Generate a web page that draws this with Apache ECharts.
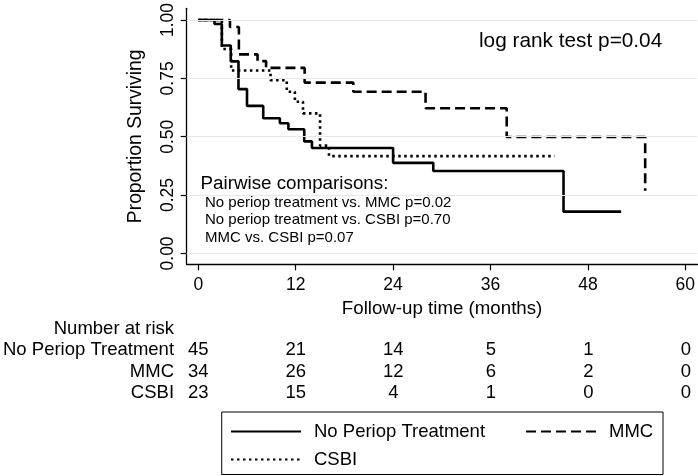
<!DOCTYPE html>
<html>
<head>
<meta charset="utf-8">
<script src="https://cdn.jsdelivr.net/npm/echarts@6/dist/echarts.min.js"></script>
<style>
html,body{margin:0;padding:0;background:#fff;}
#chart{width:698px;height:476px;}
</style>
</head>
<body>
<div id="chart"></div>
<script>
// ---- Data ----
const groupNames = ['No Periop Treatment', 'MMC', 'CSBI'];

const noPeriopTime = [0, 2.0, 2.9, 4.0, 4.95, 6.0, 8.0, 10.05, 11.1, 13.05, 14.0, 24.0, 28.95, 45.0, 52.1];
const noPeriopSurv = [1.0, 0.983, 0.891, 0.823, 0.704, 0.632, 0.579, 0.558, 0.532, 0.480, 0.452, 0.388, 0.353, 0.179, 0.179];

const mmcTime = [0, 3.9, 5.0, 7.3, 8.35, 13.1, 19.1, 28.0, 38.0, 55.06];
const mmcSurv = [1.0, 0.970, 0.853, 0.824, 0.795, 0.732, 0.693, 0.622, 0.499, 0.268];

const csbiTime = [0, 2.9, 4.05, 8.9, 10.9, 11.9, 12.9, 15.0, 16.1, 43.9];
const csbiSurv = [1.0, 0.876, 0.784, 0.742, 0.693, 0.650, 0.600, 0.462, 0.417, 0.417];

const xTicks = [0, 12, 24, 36, 48, 60];
const yTicks = [0, 0.25, 0.5, 0.75, 1.0];

const riskTimes = [0, 12, 24, 36, 48, 60];
const riskNoPeriop = [45, 21, 14, 5, 1, 0];
const riskMMC = [34, 26, 12, 6, 2, 0];
const riskCSBI = [23, 15, 4, 1, 0, 0];
const riskRows = ['Number at risk', 'No Periop Treatment', 'MMC', 'CSBI'];

const logRankText = 'log rank test p=0.04';
const pairwiseTitle = 'Pairwise comparisons:';
const pairwiseLines = [
  'No periop treatment vs. MMC p=0.02',
  'No periop treatment vs. CSBI p=0.70',
  'MMC vs. CSBI p=0.07'
];

// ---- Build ----
const FONT = '"Liberation Sans", Arial, Helvetica, sans-serif';
const zip = (a, b) => a.map((v, i) => [v, b[i]]);
const X_MIN = -1.43, X_MAX = 61.5, Y_MIN = -0.0466, Y_MAX = 1.05;

const chart = echarts.init(document.getElementById('chart'), null, {renderer: 'canvas'});

function riskSeries(name, vals) {
  return {
    type: 'scatter', xAxisIndex: 1, yAxisIndex: 1, silent: true,
    symbolSize: 0.5, itemStyle: {color: '#fff', opacity: 1},
    data: riskTimes.map((t, i) => [t, name, vals[i]]),
    label: {
      show: true, position: 'inside', formatter: p => String(p.value[2]),
      color: '#000', opacity: 1, textBorderWidth: 0,
      fontFamily: FONT, fontSize: 18.5
    },
    emphasis: {disabled: true},
    tooltip: {show: false}
  };
}

function kmSeries(name, times, surv, dash) {
  return {
    name: name, type: 'line', step: 'end', showSymbol: false, symbol: 'none',
    xAxisIndex: 0, yAxisIndex: 0, z: 3,
    data: zip(times, surv),
    lineStyle: {color: '#000', width: 2.6, type: dash, cap: 'butt'},
    itemStyle: {color: '#000'},
    animation: false
  };
}

const legendCommon = {
  itemWidth: 70, itemHeight: 14, padding: 0,
  textStyle: {fontFamily: FONT, fontSize: 18.5, color: '#000', padding: [0, 0, 0, 8]},
  itemStyle: {color: 'rgba(0,0,0,0)', borderColor: 'rgba(0,0,0,0)', borderWidth: 0},
  selectedMode: false
};

const option = {
  backgroundColor: '#fff',
  animation: false,
  grid: [
    {left: 186.7, right: 0, top: 5.7, bottom: 476 - 264.3, containLabel: false},
    {left: 186.7, right: 0, top: 318.3, height: 85.3, containLabel: false}
  ],
  xAxis: [
    {
      type: 'value', gridIndex: 0, min: X_MIN, max: X_MAX,
      name: 'Follow-up time (months)', nameLocation: 'middle', nameGap: 32,
      nameTextStyle: {fontFamily: FONT, fontSize: 18.7, color: '#000'},
      axisLine: {show: true, onZero: false, lineStyle: {color: '#000', width: 1.3}},
      axisTick: {show: true, length: 6, customValues: xTicks, lineStyle: {color: '#000', width: 1.2}},
      axisLabel: {show: true, customValues: xTicks, margin: 12, fontFamily: FONT, fontSize: 17.5, color: '#000'},
      splitLine: {show: false}
    },
    {
      type: 'value', gridIndex: 1, min: X_MIN, max: X_MAX, show: false
    }
  ],
  yAxis: [
    {
      type: 'value', gridIndex: 0, min: Y_MIN, max: Y_MAX,
      name: 'Proportion Surviving', nameLocation: 'middle', nameGap: 42,
      nameTextStyle: {fontFamily: FONT, fontSize: 19.3, color: '#000'},
      axisLine: {show: true, onZero: false, lineStyle: {color: '#000', width: 1.3}},
      axisTick: {show: true, length: 6, customValues: yTicks, lineStyle: {color: '#000', width: 1.2}},
      axisLabel: {
        show: true, customValues: yTicks, rotate: 90, margin: 10,
        formatter: v => v.toFixed(2),
        fontFamily: FONT, fontSize: 17.5, color: '#000'
      },
      splitLine: {show: false}
    },
    {
      type: 'category', gridIndex: 1, data: riskRows, inverse: true,
      axisLine: {show: false}, axisTick: {show: false},
      axisLabel: {show: true, interval: 0, hideOverlap: false, margin: 12.7, fontFamily: FONT, fontSize: 18.5, color: '#000', align: 'right'},
      splitLine: {show: false}
    }
  ],
  legend: [
    Object.assign({}, legendCommon, {data: [groupNames[0]], left: 230, top: 422}),
    Object.assign({}, legendCommon, {data: [groupNames[1]], left: 525, top: 422}),
    Object.assign({}, legendCommon, {data: [groupNames[2]], left: 230, top: 450})
  ],
  graphic: [
    {type: 'rect', shape: {x: 221.7, y: 412, width: 441.3, height: 62.5},
     style: {fill: 'none', stroke: '#000', lineWidth: 1}, silent: true, z: 0},
    {type: 'text', left: 479, top: 31, style: {text: logRankText, font: '20.8px ' + FONT, fill: '#000'}},
    {type: 'text', left: 200.5, top: 174, style: {text: pairwiseTitle, font: '18.8px ' + FONT, fill: '#000'}},
    {type: 'text', left: 205, top: 195, style: {text: pairwiseLines[0], font: '15px ' + FONT, fill: '#000'}},
    {type: 'text', left: 205, top: 212.5, style: {text: pairwiseLines[1], font: '15px ' + FONT, fill: '#000'}},
    {type: 'text', left: 205, top: 230, style: {text: pairwiseLines[2], font: '15px ' + FONT, fill: '#000'}}
  ],
  series: [
    {
      type: 'line', name: 'grid', xAxisIndex: 0, yAxisIndex: 0, data: [], z: 1, silent: true,
      markLine: {
        silent: true, symbol: 'none', label: {show: false}, animation: false,
        lineStyle: {color: '#e8e8e8', width: 1, type: 'solid'},
        data: yTicks.map(v => ({yAxis: v}))
      }
    },
    kmSeries(groupNames[0], noPeriopTime, noPeriopSurv, 'solid'),
    kmSeries(groupNames[1], mmcTime, mmcSurv, [10, 5]),
    kmSeries(groupNames[2], csbiTime, csbiSurv, [2.5, 3.5]),
    riskSeries(riskRows[1], riskNoPeriop),
    riskSeries(riskRows[2], riskMMC),
    riskSeries(riskRows[3], riskCSBI)
  ]
};
chart.setOption(option);
</script>
</body>
</html>
